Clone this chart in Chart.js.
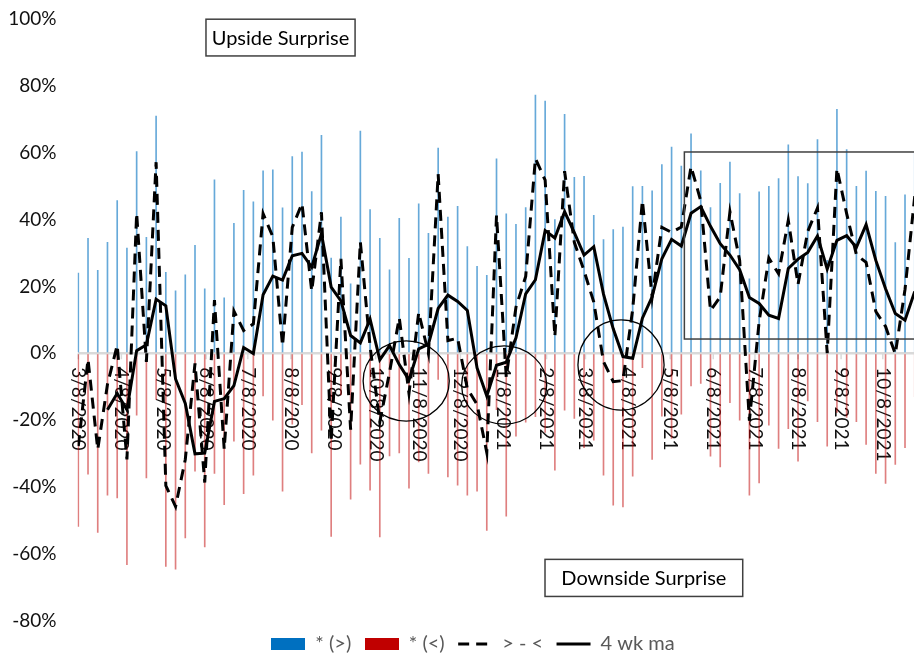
<!DOCTYPE html>
<html>
<head>
<meta charset="utf-8">
<script src="https://cdn.jsdelivr.net/npm/chart.js@4.4.1/dist/chart.umd.min.js"></script>
<style>
    html, body { margin: 0; padding: 0; width: 914px; height: 653px; overflow: hidden; background: #fff; }
    canvas { display: block; }
</style>
</head>
<body>
<canvas id="surprise-chart" width="946" height="664"></canvas>
<script>
/*
 * Weekly earnings surprise breadth: share of upside surprises (blue),
 * share of downside surprises (red), the net difference (dashed) and
 * its 4 week moving average (solid). Weeks start on 3/8/2020.
 */

const firstWeek = '2020-03-08';

// share of upside surprises, % (one value per week)
const upside = [
    24, 34.4, 24.8, 33.2, 45.7, 31.5, 60.4, 34.7, 71, 24.2,
    18.7, 23.5, 32.3, 19.3, 51.9, 16.6, 38.9, 48.8, 45.3, 54.6,
    54.9, 43.5, 58.9, 60.2, 48.4, 65.2, 28.5, 40.8, 20.8, 66.5,
    43, 34.4, 25, 40.4, 28.4, 44.7, 35.9, 61.4, 40.8, 44,
    31.9, 26, 23.3, 58.2, 41.7, 38.6, 43.6, 77.3, 75.5, 40,
    71.5, 52.7, 53, 41.3, 34, 37, 37.8, 49.9, 50, 48.6,
    56.5, 61.7, 56, 65.7, 54.6, 43.6, 50.9, 57.2, 47.8, 22.3,
    48.3, 50, 52.3, 62.4, 52.9, 50.8, 64, 27.8, 73, 61,
    50, 54.5, 48.5, 47, 33.1, 47.4, 60,
];

// share of downside surprises, % (drawn below zero)
const downside = [
    -51.8, -36.2, -53.6, -42.5, -43.3, -63.3, -18.5, -37.3, -13.8, -63.8,
    -64.6, -55.3, -35.3, -58, -36, -45.3, -26.3, -42, -36.5, -12.8,
    -20, -41.3, -21.2, -15.4, -29.8, -23, -54.8, -12.5, -43.7, -33.2,
    -41, -55, -30.7, -29.8, -40.4, -32.5, -36, -7.8, -37, -39.5,
    -42.5, -41.3, -53, -16.9, -48.8, -24.8, -20.6, -19, -23.7, -35,
    -17, -19.5, -28.3, -26, -36.5, -45.5, -46, -36.8, -4.3, -31.8,
    -18.8, -25.5, -18.2, -9.8, -9, -30.8, -34, -14.8, -20, -42.5,
    -38.8, -21.5, -28.5, -22.6, -32.3, -14.3, -20.5, -27.8, -17.7, -19.2,
    -20.5, -27.3, -36, -39, -33.3, -28.3, -13,
];

// net: upside minus downside share, %
const netSpread = [
    -27.8, -1.8, -28.8, -9.3, 2.4, -31.8, 41.9, -2.6, 57.2, -39.6,
    -45.9, -31.8, -3.0, -38.7, 15.9, -28.7, 12.6, 6.8, 8.8, 41.8,
    34.9, 2.2, 37.7, 44.8, 18.6, 42.2, -26.3, 28.3, -22.9, 33.3,
    2.0, -20.6, -5.7, 10.6, -12.0, 12.2, -0.1, 53.6, 3.8, 4.5,
    -10.6, -15.3, -29.7, 41.3, -7.1, 13.8, 23.0, 58.3, 51.8, 5.0,
    54.5, 33.2, 24.7, 15.3, -2.5, -8.5, -8.2, 13.1, 45.7, 16.8,
    37.7, 36.2, 37.8, 55.9, 45.6, 12.8, 16.9, 42.4, 27.8, -20.2,
    9.5, 28.5, 23.8, 39.8, 20.6, 36.5, 43.5, 0.0, 55.3, 41.8,
    29.5, 27.2, 12.5, 8.0, -0.2, 19.1, 47.0,
];

// 4 week moving average of the net spread, %
const movingAvg = [
    null, null, null, -16.9, -12.0, -16.9, 0.8, 2.5, 16.2, 14.2,
    -7.7, -15.0, -30.1, -29.9, -14.4, -13.6, -9.7, 1.7, -0.1, 17.5,
    23.1, 21.9, 29.2, 29.9, 25.8, 35.8, 19.8, 15.7, 5.3, 3.1,
    10.2, -2.0, 2.3, -3.4, -8.0, 1.3, 2.7, 13.4, 17.4, 15.5,
    12.8, -4.4, -12.8, -3.6, -2.7, 4.6, 17.8, 22.0, 36.7, 34.5,
    42.4, 36.1, 29.4, 31.9, 17.7, 7.3, -1.0, -1.5, 10.5, 16.9,
    28.3, 34.1, 32.1, 41.9, 43.9, 38.0, 32.8, 29.4, 25.0, 16.7,
    14.9, 11.4, 10.4, 25.4, 28.2, 30.2, 35.1, 25.2, 33.8, 35.2,
    31.7, 38.5, 27.8, 19.3, 11.9, 9.9, 18.5,
];

// monthly tick labels on the date axis
const monthTicks = [
    '3/8/2020', '4/8/2020', '5/8/2020', '6/8/2020', '7/8/2020', '8/8/2020',
    '9/8/2020', '10/8/2020', '11/8/2020', '12/8/2020', '1/8/2021', '2/8/2021',
    '3/8/2021', '4/8/2021', '5/8/2021', '6/8/2021', '7/8/2021', '8/8/2021',
    '9/8/2021', '10/8/2021',
];

const yTicks = [-80, -60, -40, -20, 0, 20, 40, 60, 80, 100];

// callouts drawn on top of the plot, in data units (days since first week, %)
const textNotes = [
    { text: 'Upside Surprise', x0: 91.9, x1: 199.2, y0: 100, y1: 89 },
    { text: 'Downside Surprise', x0: 335.9, x1: 478.2, y0: -61.7, y1: -72.8 },
];
const circleNotes = [
    { x: 236, y: -8.3, rx: 31, ry: 12 },
    { x: 306.5, y: -9.5, rx: 30.6, ry: 11.7 },
    { x: 390.6, y: -3.5, rx: 31, ry: 13.5 },
];
const boxNote = { x0: 436.2, x1: 660, y0: 60.25, y1: 4.26 };

const FONT = 'Lato, "Open Sans", sans-serif';

// day offset of a date relative to the first week
const startMs = Date.parse(firstWeek + 'T00:00:00Z');
function dayOffset(label) {
    const [m, d, y] = label.split('/').map(Number);
    return (Date.UTC(y, m - 1, d) - startMs) / 86400000;
}
const weekDays = upside.map((_, i) => i * 7);
const monthDays = monthTicks.map(dayOffset);

function points(values) {
    return values.map((v, i) => ({ x: weekDays[i], y: v }));
}

// small filled rectangle used as legend swatch for the bar series
function swatch(color) {
    const c = document.createElement('canvas');
    c.width = 34;
    c.height = 12;
    const g = c.getContext('2d');
    g.fillStyle = color;
    g.fillRect(0, 0, 34, 12);
    return c;
}

// rotated month labels sitting on the zero line, under the series
const dateAxisLabels = {
    id: 'dateAxisLabels',
    beforeDatasetsDraw(chart) {
        const { ctx, scales: { x, y } } = chart;
        const y0 = y.getPixelForValue(0);
        ctx.save();
        ctx.font = '19px ' + FONT;
        ctx.fillStyle = '#111';
        ctx.textAlign = 'left';
        ctx.textBaseline = 'middle';
        monthTicks.forEach((label, k) => {
            const px = x.getPixelForValue(monthDays[k]);
            ctx.strokeStyle = '#D9D9D9';
            ctx.lineWidth = 1.5;
            ctx.beginPath();
            ctx.moveTo(px, y0);
            ctx.lineTo(px, y0 + 6);
            ctx.stroke();
            ctx.save();
            ctx.translate(px, y0 + 14);
            ctx.rotate(Math.PI / 2);
            ctx.fillText(label, 0, 0);
            ctx.restore();
        });
        ctx.restore();
    },
};

// callout shapes drawn over the series
const callouts = {
    id: 'callouts',
    afterDatasetsDraw(chart) {
        const { ctx, scales: { x, y } } = chart;
        ctx.save();

        // rectangle round the recent high-breadth stretch
        ctx.strokeStyle = '#404040';
        ctx.lineWidth = 1.5;
        const bx0 = x.getPixelForValue(boxNote.x0);
        const bx1 = x.getPixelForValue(boxNote.x1);
        const by0 = y.getPixelForValue(boxNote.y0);
        const by1 = y.getPixelForValue(boxNote.y1);
        ctx.strokeRect(bx0, by0, bx1 - bx0, by1 - by0);

        // circles round the troughs
        ctx.strokeStyle = '#000';
        ctx.lineWidth = 1.3;
        circleNotes.forEach((c) => {
            const cx = x.getPixelForValue(c.x);
            const cy = y.getPixelForValue(c.y);
            const rx = x.getPixelForValue(c.x + c.rx) - cx;
            const ry = y.getPixelForValue(c.y - c.ry) - cy;
            ctx.beginPath();
            ctx.ellipse(cx, cy, rx, ry, 0, 0, Math.PI * 2);
            ctx.stroke();
        });

        // text boxes
        ctx.font = '20px ' + FONT;
        ctx.textAlign = 'center';
        ctx.textBaseline = 'middle';
        textNotes.forEach((n) => {
            const l = x.getPixelForValue(n.x0);
            const r = x.getPixelForValue(n.x1);
            const t = y.getPixelForValue(n.y0);
            const b = y.getPixelForValue(n.y1);
            ctx.fillStyle = '#fff';
            ctx.fillRect(l, t, r - l, b - t);
            ctx.strokeStyle = '#404040';
            ctx.lineWidth = 1.5;
            ctx.strokeRect(l, t, r - l, b - t);
            ctx.fillStyle = '#000';
            ctx.fillText(n.text, (l + r) / 2, (t + b) / 2 + 1);
        });
        ctx.restore();
    },
};

const ctx = document.getElementById('surprise-chart').getContext('2d');
const chart = new Chart(ctx, {
    type: 'bar',
    data: {
        datasets: [
            {
                label: '* (>)',
                data: points(upside),
                backgroundColor: 'rgba(0, 112, 192, 0.6)',
                legendColor: '#0070C0',
                barThickness: 1,
                grouped: false,
                order: 3,
            },
            {
                label: '* (<)',
                data: points(downside),
                backgroundColor: 'rgba(192, 0, 0, 0.5)',
                legendColor: '#C00000',
                barThickness: 1,
                grouped: false,
                order: 3,
            },
            {
                type: 'line',
                label: '> - <',
                data: points(netSpread),
                borderColor: '#000',
                borderWidth: 3,
                borderDash: [11, 7],
                pointRadius: 0,
                tension: 0,
                fill: false,
                order: 2,
            },
            {
                type: 'line',
                label: '4 wk ma',
                data: points(movingAvg),
                borderColor: '#000',
                borderWidth: 3,
                pointRadius: 0,
                tension: 0,
                fill: false,
                order: 1,
            },
        ],
    },
    options: {
        responsive: false,
        animation: false,
        layout: { padding: { top: 19.2, left: 0, right: 0, bottom: 0 } },
        plugins: {
            tooltip: { enabled: false },
            legend: {
                position: 'bottom',
                labels: {
                    usePointStyle: true,
                    pointStyleWidth: 34,
                    boxHeight: 12,
                    padding: 13.5,
                    color: '#595959',
                    font: { family: FONT, size: 20 },
                    generateLabels(chart) {
                        const items = Chart.defaults.plugins.legend.labels.generateLabels(chart);
                        items.sort((a, b) => a.datasetIndex - b.datasetIndex);
                        items.forEach((item) => {
                            const ds = chart.data.datasets[item.datasetIndex];
                            if (ds.type === 'line') {
                                item.pointStyle = 'line';
                                item.strokeStyle = ds.borderColor;
                                item.lineWidth = ds.borderWidth;
                                item.lineDash = ds.borderDash || [];
                            } else {
                                item.pointStyle = swatch(ds.legendColor);
                            }
                        });
                        return items;
                    },
                },
            },
        },
        scales: {
            x: {
                type: 'linear',
                display: false,
                offset: false,
                min: -0.5,
                max: 624.5,
            },
            y: {
                min: -80,
                max: 100,
                afterFit(scale) {
                    // fixed label gutter; no extra label padding above/below the plot
                    scale.width = 77.6;
                    scale.paddingTop = 0;
                    scale.paddingBottom = 0;
                },
                afterBuildTicks(scale) {
                    scale.ticks = yTicks.map((v) => ({ value: v }));
                },
                ticks: {
                    padding: 21,
                    color: '#111',
                    font: { family: FONT, size: 19 },
                    callback: (v) => v + '%',
                },
                grid: {
                    drawTicks: false,
                    color: (c) => (c.tick && c.tick.value === 0 ? '#D9D9D9' : 'rgba(0,0,0,0)'),
                    lineWidth: (c) => (c.tick && c.tick.value === 0 ? 2.5 : 0),
                },
                border: { display: false },
            },
        },
    },
    plugins: [dateAxisLabels, callouts],
});
</script>
</body>
</html>
